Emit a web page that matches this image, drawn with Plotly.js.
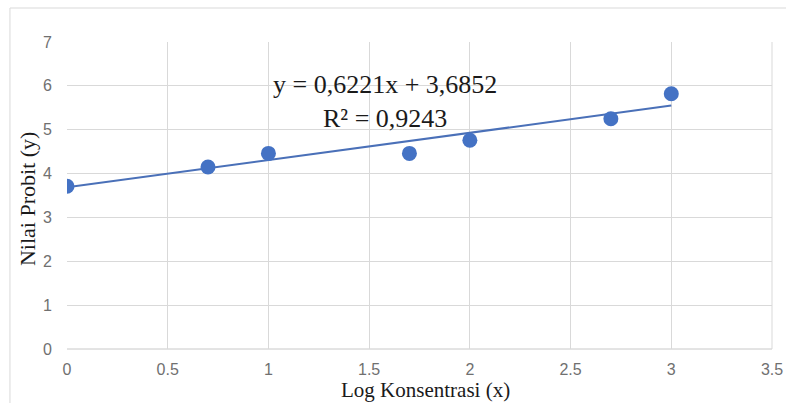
<!DOCTYPE html>
<html>
<head>
<meta charset="utf-8">
<script src="https://cdn.plot.ly/plotly-3.0.1.min.js"></script>
<style>html,body{margin:0;padding:0;background:#fff;}#chart{width:786px;height:403px;}</style>
</head>
<body>
<div id="chart"></div>
<script>
// Data
const logKonsentrasi = [0, 0.7, 1, 1.7, 2, 2.7, 3];
const nilaiProbit = [3.71, 4.15, 4.46, 4.46, 4.76, 5.25, 5.82];
// Trendline coefficients shown on the chart
const slope = 0.6221;
const intercept = 3.6852;
const rSquared = 0.9243;
const xTicks = [0, 0.5, 1, 1.5, 2, 2.5, 3, 3.5];
const yTicks = [0, 1, 2, 3, 4, 5, 6, 7];

const fitX = [Math.min(...logKonsentrasi), Math.max(...logKonsentrasi)];
const fitY = fitX.map(x => slope * x + intercept);

const fmt = v => v.toFixed(4).replace('.', ',');

const traces = [
  {
    x: fitX, y: fitY, type: 'scatter', mode: 'lines',
    line: {color: '#4a70b8', width: 2},
    hoverinfo: 'skip', showlegend: false
  },
  {
    x: logKonsentrasi, y: nilaiProbit, type: 'scatter', mode: 'markers',
    marker: {color: '#4472c4', size: 15, line: {width: 0}},
    showlegend: false
  }
];

const tickFont = {family: 'Liberation Sans, Arial, sans-serif', size: 16, color: '#707070'};
const serif = 'Liberation Serif, Times New Roman, serif';

const layout = {
  width: 786, height: 403,
  margin: {l: 67, r: 14, t: 42, b: 54},
  paper_bgcolor: '#fff', plot_bgcolor: '#fff',
  showlegend: false,
  xaxis: {
    range: [0, 3.5], tickvals: xTicks, ticktext: xTicks.map(String),
    showgrid: true, gridcolor: '#d9d9d9', gridwidth: 1,
    zeroline: false, showline: false, ticks: '',
    tickfont: tickFont, ticklabelstandoff: 9, fixedrange: true
  },
  yaxis: {
    range: [0, 7], tickvals: yTicks, ticktext: yTicks.map(String),
    showgrid: true, gridcolor: '#d9d9d9', gridwidth: 1,
    zeroline: false, showline: false, ticks: '',
    tickfont: tickFont, ticklabelstandoff: 14, fixedrange: true
  },
  shapes: [
    {type: 'rect', xref: 'paper', yref: 'paper', x0: -0.0809, x1: 1.05, y0: -0.3, y1: 1.1107,
     line: {color: '#d9d9d9', width: 1}, fillcolor: 'rgba(0,0,0,0)', layer: 'below'},
    {type: 'line', xref: 'paper', yref: 'paper', x0: 0, x1: 1, y0: 0, y1: 0,
     line: {color: '#c8c8c8', width: 1}, layer: 'below'},
    {type: 'line', xref: 'paper', yref: 'paper', x0: 1, x1: 1, y0: 0, y1: 1,
     line: {color: '#d9d9d9', width: 1}, layer: 'below'}
  ],
  annotations: [
    {x: 1.58, y: 5.64, xref: 'x', yref: 'y', showarrow: false, align: 'center',
     xanchor: 'center', yanchor: 'middle',
     text: 'y = ' + fmt(slope) + 'x + ' + fmt(intercept) + '<br>R² = ' + fmt(rSquared),
     font: {family: serif, size: 26, color: '#1a1a1a'}},
    {x: 0.509, y: -0.1336, xref: 'paper', yref: 'paper', showarrow: false,
     xanchor: 'center', yanchor: 'middle', text: 'Log Konsentrasi (x)',
     font: {family: serif, size: 21, color: '#1a1a1a'}},
    {x: -0.0553, y: 0.4886, xref: 'paper', yref: 'paper', showarrow: false,
     xanchor: 'center', yanchor: 'middle', textangle: -90, text: 'Nilai Probit (y)',
     font: {family: serif, size: 22, color: '#1a1a1a'}}
  ]
};

Plotly.newPlot('chart', traces, layout, {displayModeBar: false, staticPlot: true});
</script>
</body>
</html>
